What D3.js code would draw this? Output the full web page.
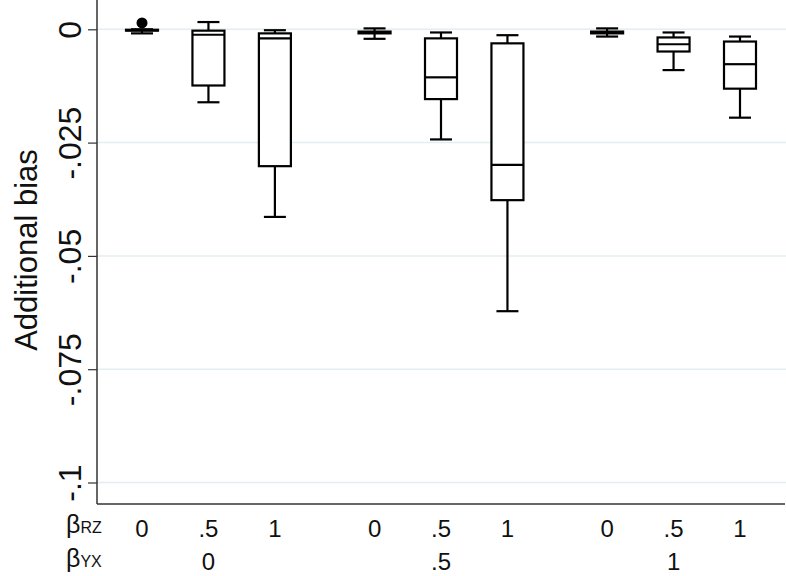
<!DOCTYPE html>
<html><head><meta charset="utf-8">
<script src="https://cdn.jsdelivr.net/npm/d3@7"></script>
<style>body{margin:0;background:#fff}svg{display:block;font-family:Arial,"Liberation Sans",sans-serif}</style>
</head><body><svg id="c" width="786" height="576"></svg>
<script>
const byxGroups = ["0", ".5", "1"];
const brzLabels = ["0", ".5", "1"];
const yTicks = [0, -0.025, -0.05, -0.075, -0.1];
const yTickLabels = ["0", "-.025", "-.05", "-.075", "-.1"];
// each box: [lowerWhisker, q1, median, q3, upperWhisker]
const lowerWhisker = [-0.0009, -0.0161, -0.0414, -0.0021, -0.0243, -0.0622, -0.0016, -0.0090, -0.0195];
const q1 =           [-0.0003, -0.0124, -0.0302, -0.0009, -0.0154, -0.0377, -0.0009, -0.0049, -0.0131];
const median =       [-0.0002, -0.0012, -0.0020, -0.0007, -0.0106, -0.0299, -0.0007, -0.0033, -0.0077];
const q3 =           [-0.0001, -0.0003, -0.0009, -0.0005, -0.0020, -0.0031, -0.0005, -0.0018, -0.0027];
const upperWhisker = [ 0.0000,  0.0016, -0.0002,  0.0002, -0.0007, -0.0013,  0.0002, -0.0007, -0.0016];
const outliers = [[0, 0.0014]]; // [box index, value]

const svg = d3.select("#c");
const y = d3.scaleLinear().domain([-0.1, 0]).range([482.5, 29.3]);
const x = d3.scaleLinear().domain([0, 9]).range([142, 740]);
const pos = i => Math.floor(i / 3) * 3.5 + (i % 3);
const left = 97, right = 786, bottom = 504;

// gridlines
svg.append("g").selectAll("line").data(yTicks).join("line")
  .attr("x1", left).attr("x2", right)
  .attr("y1", d => y(d)).attr("y2", d => y(d))
  .attr("stroke", "#e4eef1").attr("stroke-width", 1.5);

// y axis
const ya = svg.append("g").attr("transform", `translate(${left},0)`)
  .call(d3.axisLeft(y).tickValues(yTicks).tickSize(9).tickFormat((d, i) => yTickLabels[i]));
ya.select(".domain").attr("d", `M0,0V${bottom}`).attr("stroke", "#333").attr("stroke-width", 1.5);
ya.selectAll(".tick line").attr("stroke", "#333").attr("stroke-width", 1.2);
ya.selectAll(".tick text").attr("transform", "rotate(-90)").attr("x", 0).attr("y", -16).attr("dy", 0)
  .attr("text-anchor", "middle").attr("font-size", 32).attr("fill", "#111").attr("font-family", "Arial, 'Liberation Sans', sans-serif");

// x axis line
svg.append("line").attr("x1", left).attr("x2", 785).attr("y1", bottom).attr("y2", bottom)
  .attr("stroke", "#333").attr("stroke-width", 1.5);

// y title
svg.append("text").attr("transform", "translate(37,250) rotate(-90)").attr("text-anchor", "middle")
  .attr("font-size", 31).attr("fill", "#111").text("Additional bias");

// boxes
const boxW = 32, capW = 22;
const g = svg.append("g").attr("stroke", "#000").attr("stroke-width", 2.2).attr("fill", "none");
median.forEach((m, i) => {
  const cx = x(pos(i));
  g.append("line").attr("x1", cx).attr("x2", cx).attr("y1", y(upperWhisker[i])).attr("y2", y(q3[i]));
  g.append("line").attr("x1", cx).attr("x2", cx).attr("y1", y(q1[i])).attr("y2", y(lowerWhisker[i]));
  g.append("line").attr("x1", cx - capW/2).attr("x2", cx + capW/2).attr("y1", y(upperWhisker[i])).attr("y2", y(upperWhisker[i]));
  g.append("line").attr("x1", cx - capW/2).attr("x2", cx + capW/2).attr("y1", y(lowerWhisker[i])).attr("y2", y(lowerWhisker[i]));
  g.append("rect").attr("x", cx - boxW/2).attr("width", boxW).attr("y", y(q3[i])).attr("height", Math.max(0.1, y(q1[i]) - y(q3[i]))).attr("fill", "#fff");
  g.append("line").attr("x1", cx - boxW/2).attr("x2", cx + boxW/2).attr("y1", y(m)).attr("y2", y(m));
});
svg.append("g").selectAll("circle").data(outliers).join("circle")
  .attr("cx", d => x(pos(d[0]))).attr("cy", d => y(d[1])).attr("r", 5.5).attr("fill", "#000");

// bottom labels
const lab = svg.append("g").attr("fill", "#111").attr("font-size", 24).attr("text-anchor", "middle");
median.forEach((m, i) => {
  lab.append("text").attr("x", x(pos(i))).attr("y", 537).text(brzLabels[i % 3]);
});
byxGroups.forEach((t, k) => {
  lab.append("text").attr("x", x(k * 3.5 + 1)).attr("y", 570).text(t);
});
const r1 = svg.append("text").attr("x", 66).attr("y", 533).attr("fill", "#111").attr("font-size", 25);
r1.append("tspan").text("β");
r1.append("tspan").attr("font-size", 16).text("RZ");
const r2 = svg.append("text").attr("x", 66).attr("y", 567).attr("fill", "#111").attr("font-size", 25);
r2.append("tspan").text("β");
r2.append("tspan").attr("font-size", 16).text("YX");
</script></body></html>
